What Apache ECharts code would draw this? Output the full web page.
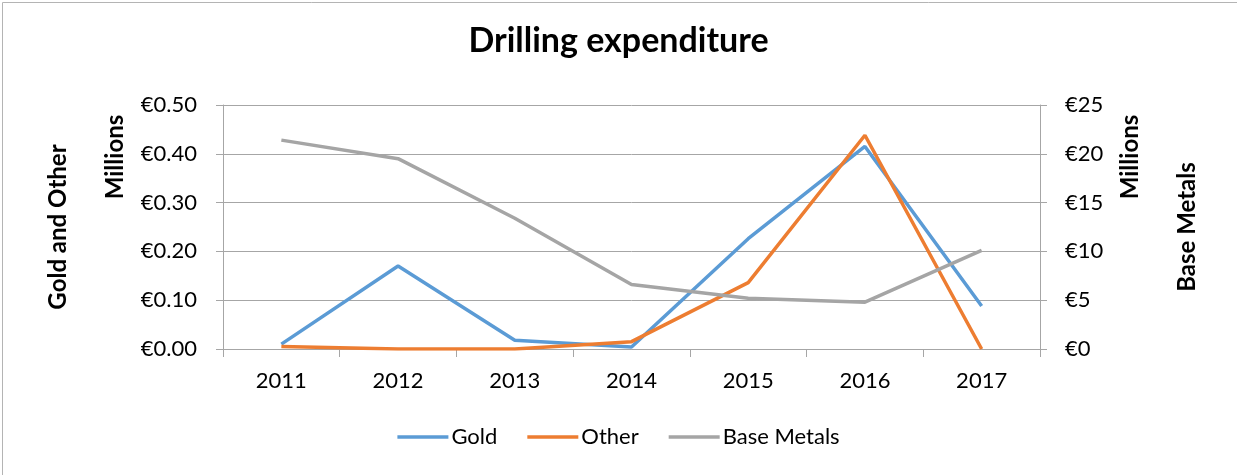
<!DOCTYPE html>
<html>
<head>
<meta charset="utf-8">
<script src="https://cdn.jsdelivr.net/npm/echarts@6/dist/echarts.min.js"></script>
<style>
  html, body { margin: 0; padding: 0; background: #fff; }
  #chart { width: 1237px; height: 475px; }
</style>
</head>
<body>
<div id="chart"></div>
<script>
  // data
  const years = ['2011', '2012', '2013', '2014', '2015', '2016', '2017'];
  const gold = [0.010, 0.170, 0.018, 0.004, 0.226, 0.415, 0.088]; // € millions
  const other = [0.005, 0.000, 0.000, 0.015, 0.136, 0.438, 0.000]; // € millions
  const baseMetals = [21.4, 19.5, 13.4, 6.6, 5.2, 4.8, 10.1]; // € millions

  const FONT = 'Lato, "Open Sans", sans-serif';
  const axisGray = '#a6a6a6';
  const LABEL_SIZE = 22;
  const NAME_SIZE = 24;

  const chart = echarts.init(document.getElementById('chart'));

  const lineSeries = (name, data, color, yAxisIndex) => ({
    name,
    type: 'line',
    data,
    yAxisIndex,
    symbol: 'none',
    smooth: false,
    lineStyle: { color, width: 3.5 },
    itemStyle: { color },
  });

  const millions = (x) => ({
    type: 'text',
    x,
    y: 157,
    rotation: Math.PI / 2,
    style: {
      text: 'Millions',
      fontFamily: FONT,
      fontSize: NAME_SIZE,
      fontWeight: 'bold',
      fill: '#000',
      align: 'center',
      verticalAlign: 'middle',
    },
  });

  chart.setOption({
    animation: false,
    textStyle: { fontFamily: FONT },
    title: {
      text: 'Drilling expenditure',
      left: 'center',
      top: 19,
      textStyle: { fontFamily: FONT, fontSize: 34, fontWeight: 'bold', color: '#000' },
    },
    legend: {
      bottom: 22,
      left: 'center',
      icon: 'rect',
      itemWidth: 51,
      itemHeight: 3.5,
      itemGap: 30,
      textStyle: { fontFamily: FONT, fontSize: LABEL_SIZE, color: '#000', padding: [0, 0, 0, -2] },
      data: ['Gold', 'Other', 'Base Metals'],
    },
    grid: { left: 223, right: 197, top: 105, bottom: 126 },
    xAxis: {
      type: 'category',
      data: years,
      boundaryGap: true,
      axisLine: { lineStyle: { color: axisGray, width: 1 } },
      axisTick: { show: true, length: 8, lineStyle: { color: axisGray } },
      axisLabel: { color: '#000', fontSize: LABEL_SIZE, margin: 21, fontFamily: FONT },
    },
    yAxis: [
      {
        type: 'value',
        min: 0,
        max: 0.5,
        interval: 0.1,
        name: 'Gold and Other',
        nameLocation: 'middle',
        nameGap: 153,
        nameRotate: 90,
        nameTextStyle: { fontSize: NAME_SIZE, fontWeight: 'bold', color: '#000', fontFamily: FONT },
        axisLine: { show: true, lineStyle: { color: axisGray } },
        axisTick: { show: true, length: 7, lineStyle: { color: axisGray } },
        axisLabel: {
          color: '#000',
          fontSize: LABEL_SIZE,
          margin: 26,
          fontFamily: FONT,
          formatter: (v) => '€' + v.toFixed(2),
        },
        splitLine: { show: true, lineStyle: { color: axisGray, width: 1 } },
      },
      {
        type: 'value',
        min: 0,
        max: 25,
        interval: 5,
        position: 'right',
        name: 'Base Metals',
        nameLocation: 'middle',
        nameGap: 135,
        nameRotate: 90,
        nameTextStyle: { fontSize: NAME_SIZE, fontWeight: 'bold', color: '#000', fontFamily: FONT },
        axisLine: { show: true, lineStyle: { color: axisGray } },
        axisTick: { show: true, length: 7, lineStyle: { color: axisGray } },
        axisLabel: {
          color: '#000',
          fontSize: LABEL_SIZE,
          margin: 25,
          fontFamily: FONT,
          formatter: (v) => '€' + v,
        },
        splitLine: { show: false },
      },
    ],
    graphic: [
      {
        type: 'rect',
        left: 0,
        top: 0,
        shape: { x: 0.5, y: 0.5, width: 1235, height: 473 },
        style: { fill: 'none', stroke: '#b4b4b4', lineWidth: 1 },
        silent: true,
      },
      millions(115),
      millions(1130),
    ],
    series: [
      lineSeries('Gold', gold, '#5b9bd5', 0),
      lineSeries('Other', other, '#ed7d31', 0),
      lineSeries('Base Metals', baseMetals, '#a5a5a5', 1),
    ],
  });
</script>
</body>
</html>
